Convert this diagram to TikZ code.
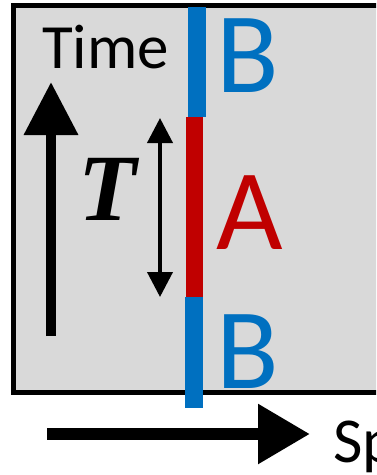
\documentclass[tikz,border=0pt]{standalone}
\usepackage{fontspec}
\setmainfont{Carlito}
\newfontfamily\durfont{Liberation Serif}
\usetikzlibrary{arrows.meta}
\definecolor{panelgray}{HTML}{D9D9D9}
\definecolor{regionblue}{HTML}{0070C0}
\definecolor{regionred}{HTML}{C00000}

\begin{document}
\begin{tikzpicture}[x=1pt,y=-1pt,
  lbl/.style={inner sep=0pt,anchor=base west},
  big/.style={lbl,font=\fontsize{115}{115}\selectfont}]
  \useasboundingbox (0,0) rectangle (376,475);
  \clip (0,0) rectangle (376,475);
  % ---------- panel ----------
  \draw[line width=5pt,fill=panelgray] (13,5.5) rectangle (400,392);
  \node[lbl,font=\fontsize{63}{63}\selectfont] (time) at (42,68) {Time};
  % ---------- time arrow ----------
  \coordinate (tbot) at (51,336);
  \coordinate (ttop) at (51,82);
  \draw[line width=10pt,-{Triangle[length=53pt,width=52pt]}] (tbot) -- (ttop);
  % ---------- duration T ----------
  \coordinate (dtop) at (160,118);
  \coordinate (dbot) at (160,297);
  \draw[line width=4pt,{Triangle[length=25pt,width=25pt]}-{Triangle[length=25pt,width=25pt]}] (dtop) -- (dbot);
  \node[inner sep=0pt,anchor=base,font=\durfont\bfseries\itshape\fontsize{95}{95}\selectfont] (dur) at (108,220) {T};
  % ---------- regions ----------
  \fill[regionblue] (188,7) rectangle (206,117);
  \fill[regionred] (186,117) rectangle (203,297);
  \fill[regionblue] (185,297) rectangle (203,408);
  \node[big,text=regionblue] (btop) at (216,92) {B};
  \node[big,text=regionred] (amid) at (216,249) {A};
  \node[big,text=regionblue] (bbot) at (216,388) {B};
  % ---------- space arrow ----------
  \coordinate (sleft) at (47,434);
  \coordinate (sright) at (310,434);
  \draw[line width=12pt,-{Triangle[length=52pt,width=57pt]}] (sleft) -- (sright);
  \node[lbl,font=\fontsize{64}{64}\selectfont] (space) at (333,462) {Space};
\end{tikzpicture}
\end{document}
